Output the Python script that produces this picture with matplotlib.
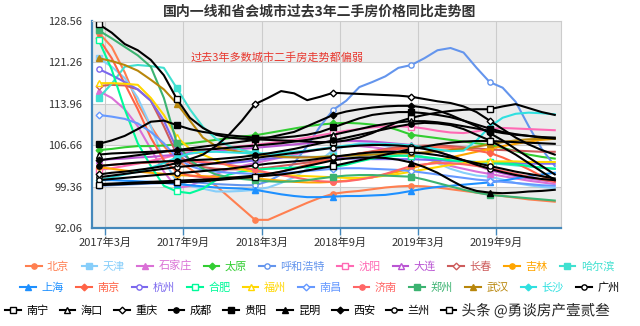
import matplotlib
matplotlib.use('Agg')
import matplotlib.pyplot as plt
import matplotlib.patheffects as pe
import numpy as np

plt.rcParams['font.family'] = ['Noto Sans CJK SC', 'DejaVu Sans']

# monthly index of second-hand house prices (same month last year = 100), Feb 2017 - Jan 2020
tick_labels = ['2017年3月', '2017年9月', '2018年3月', '2018年9月', '2019年3月', '2019年9月']

beijing = [126.5, 124, 119.5, 114, 110, 106.5, 104, 102.5, 101, 99.5, 97.5, 95.5, 93.5, 93.5, 94.5, 95.5, 96.5, 97.4,
           98.1, 98.4, 98.6, 98.9, 99.2, 99.4, 99.5, 99.4, 99.2, 98.9, 98.6, 98.3, 98.0, 97.7, 97.4, 97.1, 96.9, 96.7]
tianjin = [122, 120.5, 118.5, 115, 110, 104, 100.2, 99.5, 99, 98.5, 98.5, 98.6, 98.8, 99.2, 100, 101, 102.5, 104,
           105.8, 106.5, 107, 107, 106.5, 106, 105.5, 104.5, 103.5, 102.5, 101.8, 101.3, 101.1, 100.6, 100, 99.6, 99.3, 99.1]
shijiazhuang = [116.2, 115, 113, 110, 106, 102, 99.1, 99.5, 100.5, 101.5, 102.5, 103, 103.5, 104, 104.5, 105, 105.5, 106,
                106.3, 106.5, 106.5, 106.3, 106, 105.5, 105, 104.5, 103.8, 103, 102.5, 102, 101.6, 101.2, 100.8, 100.4, 100.1, 99.8]
taiyuan = [105.8, 106, 106.3, 106.5, 106.5, 106.6, 106.8, 107, 107.3, 107.6, 107.9, 108.2, 108.4, 108.8, 109.2, 109.6, 110, 110.3,
           110.5, 110.6, 110.5, 110.3, 110, 109.3, 108.5, 108.2, 107.9, 107.6, 107.3, 107, 106.7, 106.2, 105.6, 105, 104.6, 104.3]
huhehaote = [99.5, 99.6, 99.7, 99.8, 99.9, 100, 100.1, 100.2, 100, 99.8, 99.7, 99.6, 99.6, 100.3, 101.5, 103.5, 106.5, 110,
             112.9, 114.5, 116.9, 117.8, 118.8, 120.3, 120.8, 122, 123.4, 123.8, 123, 120.3, 117.8, 116.8, 114.3, 110, 106, 103]
shenyang = [102.3, 102.6, 103, 103.4, 103.9, 104.4, 105, 105.4, 105.8, 106.1, 106.3, 106.5, 106.7, 107, 107.3, 107.6, 108, 108.4,
            108.8, 109.2, 109.5, 109.8, 110, 110, 109.9, 109.6, 109.2, 108.9, 108.8, 109.1, 109.5, 109.7, 109.6, 109.5, 109.4, 109.3]
dalian = [104, 104.2, 104.3, 104.5, 104.6, 104.8, 105, 105.2, 105.4, 105.6, 105.8, 106, 106.2, 106.4, 106.6, 106.8, 107, 107.2,
          107.3, 107.4, 107.4, 107.3, 107.1, 106.9, 106.7, 106.2, 105.5, 104.8, 104, 103.1, 102.3, 101.7, 101.2, 100.8, 100.5, 100.2]
changchun = [117.1, 117.3, 117.2, 116.5, 114.5, 110, 105, 103.5, 102.8, 102.5, 102.4, 102.4, 102.5, 102.7, 103, 103.3, 103.6, 104,
             104.4, 104.8, 105.2, 105.6, 106, 106.3, 106.5, 106.6, 106.6, 106.5, 106.3, 106.1, 105.9, 105.8, 105.7, 105.6, 105.5, 105.5]
jilin = [102.8, 102.5, 102.2, 102, 101.8, 101.6, 101.4, 101.3, 101.2, 101.1, 101, 100.9, 100.8, 100.6, 100.4, 100.2, 100.1, 100.1,
         100.2, 100.4, 100.7, 101, 101.5, 102, 102.6, 103.2, 103.8, 104.5, 105, 105.5, 106, 106.5, 106.9, 107.3, 107.6, 107.8]
haerbin = [115, 117.5, 120.5, 120.8, 120.6, 120.3, 116.7, 113, 109.9, 107.8, 106.5, 105.8, 105.3, 105, 104.8, 104.7, 104.6, 104.6,
           104.7, 104.8, 104.9, 105, 105, 104.9, 104.7, 104.5, 104.2, 103.9, 103.7, 103.6, 103.5, 103.3, 103.1, 102.9, 102.7, 102.5]
shanghai = [100.5, 100.5, 100.4, 100.3, 100.2, 100, 99.8, 99.6, 99.4, 99.2, 99.1, 99, 98.8, 98.4, 98, 97.7, 97.5, 97.5,
            97.6, 97.7, 97.7, 97.8, 97.9, 98.2, 98.6, 99, 99.3, 99.5, 99.7, 99.9, 100.1, 100.4, 100.8, 101.2, 101.5, 101.8]
nanjing = [125.5, 122, 117.5, 113, 108, 104, 102, 101.3, 101, 100.8, 100.8, 100.9, 101.1, 101.5, 102, 102.6, 103.2, 103.8,
           104.3, 104.8, 105.2, 105.5, 105.8, 106, 106.2, 106.3, 106.3, 106.2, 106, 105.7, 105.3, 104.5, 103.5, 102.4, 101.2, 100.2]
hangzhou = [120.1, 119, 117.8, 116.5, 114.5, 111, 106, 104, 103.5, 103.4, 103.5, 103.7, 104, 104.3, 104.5, 104.6, 104.6, 104.5,
            104.4, 104.3, 104.3, 104.2, 104.2, 104.2, 104.2, 104.1, 104, 103.9, 103.8, 103.7, 103.6, 103.5, 103.5, 103.4, 103.4, 103.4]
hefei = [125.2, 120, 113, 107, 103, 99.5, 98.5, 98.2, 99, 100.5, 101.5, 102, 102.3, 102.5, 102.6, 102.7, 102.8, 102.8,
         102.8, 103.2, 103.8, 104.3, 104.6, 104.8, 104.8, 104.6, 104.3, 104, 103.8, 103.7, 103.7, 103.5, 103.3, 103, 102.7, 102.5]
fuzhou = [117.6, 117.6, 117.5, 117.3, 115, 112, 108.1, 106, 105, 104, 103, 102.4, 101.9, 101.6, 101.4, 101.3, 101.2, 101.1,
          101, 100.9, 100.9, 101, 101.3, 101.6, 102, 102.4, 102.8, 103.2, 103.5, 103.7, 103.8, 103.8, 103.8, 103.7, 103.7, 103.7]
nanchang = [112, 111.7, 111.3, 110.5, 109, 107, 104.5, 103, 102.3, 102, 101.8, 101.7, 101.6, 101.6, 101.7, 101.9, 102.1, 102.3,
            102.5, 102.6, 102.6, 102.5, 102.4, 102.3, 102.1, 101.8, 101.5, 101.2, 100.9, 100.6, 100.4, 100.2, 100, 99.8, 99.6, 99.5]
jinan = [103, 103.2, 103.4, 103.5, 103.6, 103.7, 103.8, 103.8, 103.7, 103.5, 103.2, 102.8, 102.3, 101.8, 101.4, 101, 100.6, 100.3,
         100.2, 100.3, 100.6, 101, 101.6, 102.3, 103, 103.3, 103.5, 103.5, 103.3, 103, 102.6, 102.1, 101.6, 101.1, 100.6, 100.2]
zhengzhou = [126.9, 125.5, 124, 122.5, 120.5, 115, 107, 104, 102.5, 101.5, 101, 100.7, 100.5, 100.3, 100.2, 100.3, 100.5, 100.8,
             101.1, 101.3, 101.4, 101.4, 101.3, 101.2, 101.1, 100.6, 100, 99.4, 98.8, 98.3, 97.9, 97.7, 97.5, 97.3, 97.1, 96.9]
wuhan = [122, 121.5, 120.8, 119.8, 118.2, 116.5, 114, 111, 108, 106.5, 105.8, 105.4, 105, 104.8, 104.6, 104.5, 104.5, 104.6,
         104.7, 104.8, 104.9, 105, 105.1, 105.2, 105.3, 105.4, 105.6, 105.8, 106, 106.4, 106.8, 107.2, 107.5, 107.7, 107.8, 107.9]
changsha = [100.5, 101, 101.5, 102, 102.7, 103.5, 104.5, 105.2, 105.5, 105.5, 105.4, 105.3, 105.2, 105.2, 105.3, 105.5, 105.7, 106,
            106.3, 106.6, 106.8, 106.9, 106.9, 106.8, 106.6, 106.3, 105.9, 105.6, 105.7, 107.5, 109.9, 111.5, 112.2, 112.4, 112.3, 112.1]
guangzhou = [101, 101.3, 101.6, 101.9, 102.2, 102.5, 102.8, 103, 103.2, 103.5, 103.8, 104.1, 104.4, 104.7, 105, 105.3, 105.6, 105.9,
             106.2, 106.4, 106.6, 106.7, 106.7, 106.6, 106.4, 106, 105.5, 104.8, 104, 103.2, 102.5, 101.9, 101.4, 101, 100.7, 100.5]
nanning = [128, 126.5, 124.5, 123.4, 121.7, 119, 114.8, 111.5, 109.7, 108.5, 108, 107.8, 107.7, 107.6, 107.5, 107.4, 107.3, 107.2,
           107.2, 107.5, 108, 108.8, 109.8, 110.8, 111.5, 112, 112.4, 112.7, 112.9, 113, 113, 113.5, 113.9, 113.2, 112.5, 112]
haikou = [105, 105.2, 105.3, 105.4, 105.5, 105.6, 105.7, 105.8, 105.9, 106, 106.2, 106.4, 106.6, 106.8, 107, 107.3, 107.6, 108,
          108.5, 109, 109.5, 110, 110.4, 110.7, 110.9, 110.9, 110.7, 110.4, 110, 109.6, 109.2, 108.8, 108.5, 108.3, 108.1, 108]
chongqing = [101.5, 101.8, 102, 102.3, 102.6, 103, 103.5, 104.2, 105, 106.5, 108.5, 111, 113.9, 115, 116.2, 115.8, 114.6, 115.2,
             115.9, 115.8, 115.7, 115.6, 115.5, 115.4, 115.2, 114.8, 114.4, 114.1, 113.5, 112.5, 111, 109.5, 108, 106.8, 105.8, 105]
chengdu = [103, 103.2, 103.4, 103.6, 103.7, 103.8, 103.9, 104, 104.1, 104.2, 104.4, 104.6, 104.9, 105.2, 105.6, 106, 106.5, 107,
           107.5, 108, 108.5, 109, 109.5, 110, 110.4, 110.6, 110.5, 110.2, 109.5, 108.5, 107.5, 106.3, 105, 103.5, 102, 100.5]
guiyang = [106.9, 107.5, 108.3, 109.5, 110.8, 111, 110.2, 109.5, 109, 108.7, 108.4, 108.2, 108, 108, 108, 108.2, 108.5, 109,
           109.8, 110.6, 111.4, 112, 112.3, 112.5, 112.5, 112.3, 112, 111.6, 111, 110.3, 109.6, 109, 108.6, 108.3, 108, 107.8]
kunming = [99.8, 99.9, 100, 100.1, 100.2, 100.3, 100.4, 100.5, 100.6, 100.7, 100.9, 101.1, 101.3, 101.6, 102, 102.5, 103, 103.5,
           104, 104.3, 104.5, 104.5, 104.4, 104.1, 103.6, 102.8, 101.8, 100.5, 99.3, 98.6, 98.3, 98.2, 98.3, 98.5, 98.6, 98.8]
xian = [104, 104.3, 104.6, 104.9, 105.2, 105.5, 105.8, 106.1, 106.4, 106.7, 107, 107.3, 107.6, 108, 108.5, 109, 110, 111,
        112, 112.6, 113, 113.3, 113.5, 113.6, 113.6, 113.3, 112.8, 112, 111, 110, 108.8, 107.5, 106, 104.5, 103, 101.5]
lanzhou = [100.5, 100.7, 100.9, 101.1, 101.3, 101.5, 101.7, 101.9, 102.1, 102.3, 102.5, 102.8, 103.1, 103.4, 103.6, 103.8, 104, 104.3,
           104.6, 104.9, 105.2, 105.4, 105.5, 105.5, 105.4, 105.2, 104.9, 104.5, 104, 103.5, 103, 102.5, 102, 101.6, 101.2, 100.8]
xining = [99.6, 99.7, 99.8, 99.9, 100, 100, 100.1, 100.2, 100.3, 100.5, 100.7, 100.9, 101.1, 101.3, 101.5, 101.8, 102.2, 102.6,
          103, 103.5, 104, 104.5, 105, 105.5, 106, 106.4, 106.8, 107.1, 107.3, 107.4, 107.4, 107.3, 107.2, 107.1, 107, 106.9]

cities = ['北京', '天津', '石家庄', '太原', '呼和浩特', '沈阳', '大连', '长春', '吉林', '哈尔滨',
          '上海', '南京', '杭州', '合肥', '福州', '南昌', '济南', '郑州', '武汉', '长沙', '广州',
          '南宁', '海口', '重庆', '成都', '贵阳', '昆明', '西安', '兰州', '西宁']
series = [beijing, tianjin, shijiazhuang, taiyuan, huhehaote, shenyang, dalian, changchun, jilin, haerbin,
          shanghai, nanjing, hangzhou, hefei, fuzhou, nanchang, jinan, zhengzhou, wuhan, changsha, guangzhou,
          nanning, haikou, chongqing, chengdu, guiyang, kunming, xian, lanzhou, xining]

palette = ['#ff7f50', '#87cefa', '#da70d6', '#32cd32', '#6495ed', '#ff69b4', '#ba55d3', '#cd5c5c', '#ffa500', '#40e0d0',
           '#1e90ff', '#ff6347', '#7b68ee', '#00fa9a', '#ffd700', '#6699ff', '#ff6666', '#3cb371', '#b8860b', '#30e0e0']
colors = palette + ['#000000'] * 10
# echarts symbol cycle: circle, rect, triangle, diamond, then the empty versions
symbols = [('o', True), ('s', True), ('^', True), ('D', True), ('o', False), ('s', False), ('^', False), ('D', False)]

fig = plt.figure(figsize=(6.4, 3.26), dpi=100)
ax = fig.add_axes([0.144, 0.3006, 0.733, 0.635])

y_ticks = np.linspace(92.06, 128.56, 6)
for i in range(5):
    if i % 2 == 0:
        ax.axhspan(y_ticks[i], y_ticks[i + 1], color='#ececec', zorder=0, lw=0)

x = np.arange(36) + 0.5
lines = []
for i, (name, vals) in enumerate(zip(cities, series)):
    m, filled = symbols[i % 8]
    c = colors[i]
    ms = 3.4 if m == 'D' else 3.8
    ln, = ax.plot(x, vals, color=c, lw=1.5, marker=m, markevery=6, ms=ms,
                  mfc=c if filled else 'white', mec=c, mew=1.0, label=name, zorder=2)
    lines.append(ln)

ax.set_xlim(0, 36)
ax.set_ylim(y_ticks[0], y_ticks[-1])
ax.set_yticks(y_ticks)
ax.set_yticklabels([f'{v:.2f}' for v in y_ticks])
ax.set_xticks([1 + 6 * i for i in range(len(tick_labels))])
ax.set_xticklabels(tick_labels)
ax.grid(True, color='#cccccc', lw=0.8)
ax.set_axisbelow(True)
ax.tick_params(axis='y', length=0, pad=7, labelsize=8, labelcolor='#333333')
ax.tick_params(axis='x', length=5, width=1, color='#4488bb', pad=2, labelsize=8, labelcolor='#333333')
for s in ['left', 'bottom']:
    ax.spines[s].set_color('#4488bb')
    ax.spines[s].set_linewidth(1.6)
for s in ['top', 'right']:
    ax.spines[s].set_color('#cccccc')
    ax.spines[s].set_linewidth(0.8)

fig.text(0.5, 0.966, '国内一线和省会城市过去3年二手房价格同比走势图', ha='center', va='center',
         fontsize=10, fontweight='bold', color='#333333')
ax.text(0.209, 0.826, '过去3年多数城市二手房走势都偏弱', transform=ax.transAxes, ha='left', va='center',
        fontsize=8, color='#e8382f')

leg_kw = dict(frameon=False, fontsize=8, handlelength=1.4, handletextpad=0.5,
              labelcolor='linecolor', borderaxespad=0, borderpad=0)
fig.legend(handles=lines[0:10], loc='center', bbox_to_anchor=(0.5, 0.184), ncol=10, columnspacing=1.1, **leg_kw)
fig.legend(handles=lines[10:21], loc='center', bbox_to_anchor=(0.5, 0.117), ncol=11, columnspacing=1.1, **leg_kw)
fig.legend(handles=lines[21:30], loc='center left', bbox_to_anchor=(0.008, 0.046), ncol=9, columnspacing=1.0, **leg_kw)

# watermark sits over the last legend entry, as in the source image
fig.text(0.721, 0.046, '头条 @勇谈房产壹贰叁', ha='left', va='center', fontsize=10.5, color='#222222', zorder=10,
         path_effects=[pe.withStroke(linewidth=3, foreground='white')],
         bbox=dict(facecolor='white', edgecolor='none', pad=1.5))

fig.savefig('out.png', dpi=100)
